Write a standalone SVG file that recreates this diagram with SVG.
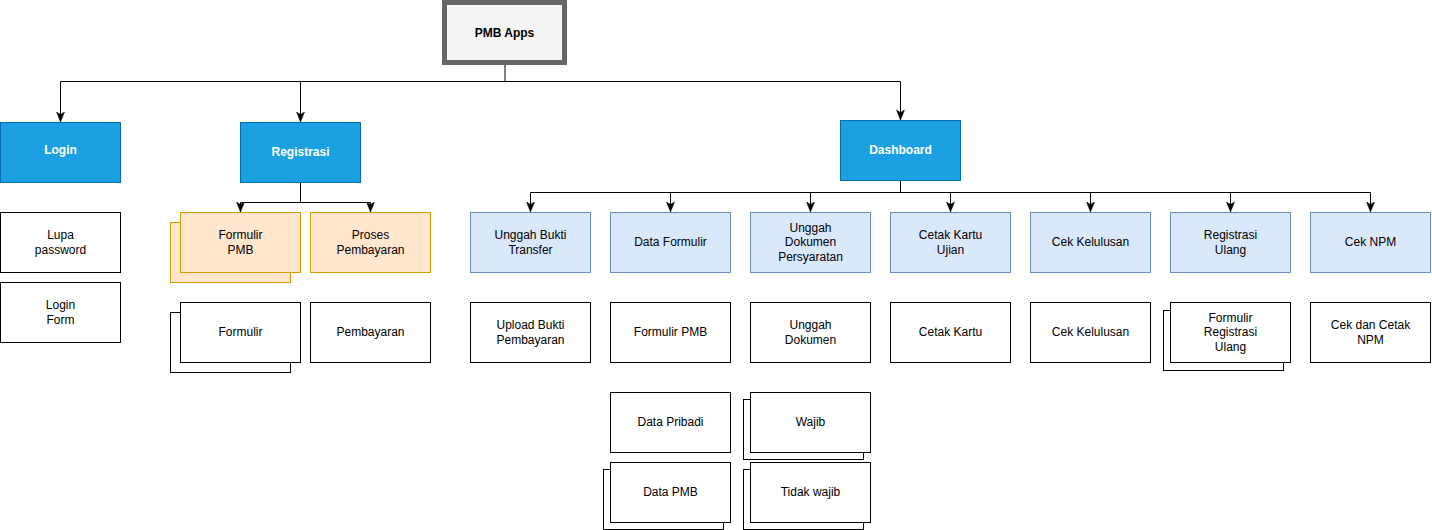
<svg xmlns="http://www.w3.org/2000/svg" width="1432" height="530" viewBox="0 0 1432 530">
<style>
  text { font-family: "Liberation Sans", Arial, sans-serif; font-size: 12px; text-anchor: middle; fill: #000; }
  .hdr { font-weight: bold; fill: #fff; }
  .root { font-weight: bold; fill: #000; }
  .blue { fill: #1ba1e2; stroke: #006eaf; stroke-width: 1; }
  .light { fill: #dae8fc; stroke: #6c8ebf; stroke-width: 1; }
  .orange { fill: #ffe6cc; stroke: #d79b00; stroke-width: 1; }
  .plain { fill: #fff; stroke: #000; stroke-width: 1; }
  .edge { fill: none; stroke: #000; stroke-width: 1; marker-end: url(#arr); }
  .line { fill: none; stroke: #000; stroke-width: 1; }
</style>
<defs>
  <marker id="arr" markerUnits="userSpaceOnUse" markerWidth="10" markerHeight="10" viewBox="0 0 10 10" refX="10" refY="5" orient="auto">
    <path d="M0,1 L10,5 L0,9 L2.5,5 Z" fill="#000" stroke="#000" stroke-width="0.5"/>
  </marker>
</defs>
<rect width="1432" height="530" fill="#fff"/>

<g id="connectors">
  <path class="line" d="M505,65 V81.5 M60.5,81.5 H900.5"/>
  <path class="edge" d="M60.5,81.5 V122"/>
  <path class="edge" d="M300.5,81.5 V122"/>
  <path class="edge" d="M900.5,81.5 V120"/>
  <path class="line" d="M300.5,182 V202.5 M240.5,202.5 H370.5"/>
  <path class="edge" d="M240.5,202.5 V212"/>
  <path class="edge" d="M370.5,202.5 V212"/>
  <path class="line" d="M900.5,180 V192.5 M530.5,192.5 H1370.5"/>
  <path class="edge" d="M530.5,192.5 V212"/>
  <path class="edge" d="M670.5,192.5 V212"/>
  <path class="edge" d="M810.5,192.5 V212"/>
  <path class="edge" d="M950.5,192.5 V212"/>
  <path class="edge" d="M1090.5,192.5 V212"/>
  <path class="edge" d="M1230.5,192.5 V212"/>
  <path class="edge" d="M1370.5,192.5 V212"/>
</g>

<g id="pmb-apps">
  <rect x="444.5" y="2.5" width="120" height="60" fill="#f5f5f5" stroke="#666" stroke-width="5"/>
  <text class="root" x="504.5" y="36.5">PMB Apps</text>
</g>

<g id="login">
  <rect class="blue" x="0.5" y="122.5" width="120" height="60"/>
  <text class="hdr" x="60.5" y="154">Login</text>
</g>
<g id="registrasi">
  <rect class="blue" x="240.5" y="122.5" width="120" height="60"/>
  <text class="hdr" x="300.5" y="156">Registrasi</text>
</g>
<g id="dashboard">
  <rect class="blue" x="840.5" y="120.5" width="120" height="60"/>
  <text class="hdr" x="900.5" y="154">Dashboard</text>
</g>

<g id="lupa-password">
  <rect class="plain" x="0.5" y="212.5" width="120" height="60"/>
  <text x="60.5" y="239">Lupa</text>
  <text x="60.5" y="254">password</text>
</g>
<g id="login-form">
  <rect class="plain" x="0.5" y="282.5" width="120" height="60"/>
  <text x="60.5" y="309">Login</text>
  <text x="60.5" y="324">Form</text>
</g>

<g id="formulir-pmb-reg">
  <rect class="orange" x="170.5" y="222.5" width="120" height="60"/>
  <rect class="orange" x="180.5" y="212.5" width="120" height="60"/>
  <text x="240.5" y="239">Formulir</text>
  <text x="240.5" y="254">PMB</text>
</g>
<g id="proses-pembayaran">
  <rect class="orange" x="310.5" y="212.5" width="120" height="60"/>
  <text x="370.5" y="239">Proses</text>
  <text x="370.5" y="254">Pembayaran</text>
</g>
<g id="formulir">
  <rect class="plain" x="170.5" y="312.5" width="120" height="60"/>
  <rect class="plain" x="180.5" y="302.5" width="120" height="60"/>
  <text x="240.5" y="336">Formulir</text>
</g>
<g id="pembayaran">
  <rect class="plain" x="310.5" y="302.5" width="120" height="60"/>
  <text x="370.5" y="336">Pembayaran</text>
</g>

<g id="unggah-bukti-transfer">
  <rect class="light" x="470.5" y="212.5" width="120" height="60"/>
  <text x="530.5" y="239">Unggah Bukti</text>
  <text x="530.5" y="254">Transfer</text>
</g>
<g id="data-formulir">
  <rect class="light" x="610.5" y="212.5" width="120" height="60"/>
  <text x="670.5" y="246">Data Formulir</text>
</g>
<g id="unggah-dokumen-persyaratan">
  <rect class="light" x="750.5" y="212.5" width="120" height="60"/>
  <text x="810.5" y="232">Unggah</text>
  <text x="810.5" y="246">Dokumen</text>
  <text x="810.5" y="261">Persyaratan</text>
</g>
<g id="cetak-kartu-ujian">
  <rect class="light" x="890.5" y="212.5" width="120" height="60"/>
  <text x="950.5" y="239">Cetak Kartu</text>
  <text x="950.5" y="254">Ujian</text>
</g>
<g id="cek-kelulusan-menu">
  <rect class="light" x="1030.5" y="212.5" width="120" height="60"/>
  <text x="1090.5" y="246">Cek Kelulusan</text>
</g>
<g id="registrasi-ulang">
  <rect class="light" x="1170.5" y="212.5" width="120" height="60"/>
  <text x="1230.5" y="239">Registrasi</text>
  <text x="1230.5" y="254">Ulang</text>
</g>
<g id="cek-npm">
  <rect class="light" x="1310.5" y="212.5" width="120" height="60"/>
  <text x="1370.5" y="246">Cek NPM</text>
</g>

<g id="upload-bukti-pembayaran">
  <rect class="plain" x="470.5" y="302.5" width="120" height="60"/>
  <text x="530.5" y="329">Upload Bukti</text>
  <text x="530.5" y="344">Pembayaran</text>
</g>
<g id="formulir-pmb">
  <rect class="plain" x="610.5" y="302.5" width="120" height="60"/>
  <text x="670.5" y="336">Formulir PMB</text>
</g>
<g id="unggah-dokumen">
  <rect class="plain" x="750.5" y="302.5" width="120" height="60"/>
  <text x="810.5" y="329">Unggah</text>
  <text x="810.5" y="344">Dokumen</text>
</g>
<g id="cetak-kartu">
  <rect class="plain" x="890.5" y="302.5" width="120" height="60"/>
  <text x="950.5" y="336">Cetak Kartu</text>
</g>
<g id="cek-kelulusan">
  <rect class="plain" x="1030.5" y="302.5" width="120" height="60"/>
  <text x="1090.5" y="336">Cek Kelulusan</text>
</g>
<g id="formulir-registrasi-ulang">
  <rect class="plain" x="1163.5" y="310.5" width="120" height="60"/>
  <rect class="plain" x="1170.5" y="302.5" width="120" height="60"/>
  <text x="1230.5" y="322">Formulir</text>
  <text x="1230.5" y="336">Registrasi</text>
  <text x="1230.5" y="351">Ulang</text>
</g>
<g id="cek-dan-cetak-npm">
  <rect class="plain" x="1310.5" y="302.5" width="120" height="60"/>
  <text x="1370.5" y="329">Cek dan Cetak</text>
  <text x="1370.5" y="344">NPM</text>
</g>

<g id="data-pribadi">
  <rect class="plain" x="610.5" y="392.5" width="120" height="60"/>
  <text x="670.5" y="426">Data Pribadi</text>
</g>
<g id="data-pmb">
  <rect class="plain" x="603.5" y="469.5" width="120" height="60"/>
  <rect class="plain" x="610.5" y="462.5" width="120" height="60"/>
  <text x="670.5" y="496">Data PMB</text>
</g>
<g id="wajib">
  <rect class="plain" x="743.5" y="399.5" width="120" height="60"/>
  <rect class="plain" x="750.5" y="392.5" width="120" height="60"/>
  <text x="810.5" y="426">Wajib</text>
</g>
<g id="tidak-wajib">
  <rect class="plain" x="743.5" y="469.5" width="120" height="60"/>
  <rect class="plain" x="750.5" y="462.5" width="120" height="60"/>
  <text x="810.5" y="496">Tidak wajib</text>
</g>
</svg>
